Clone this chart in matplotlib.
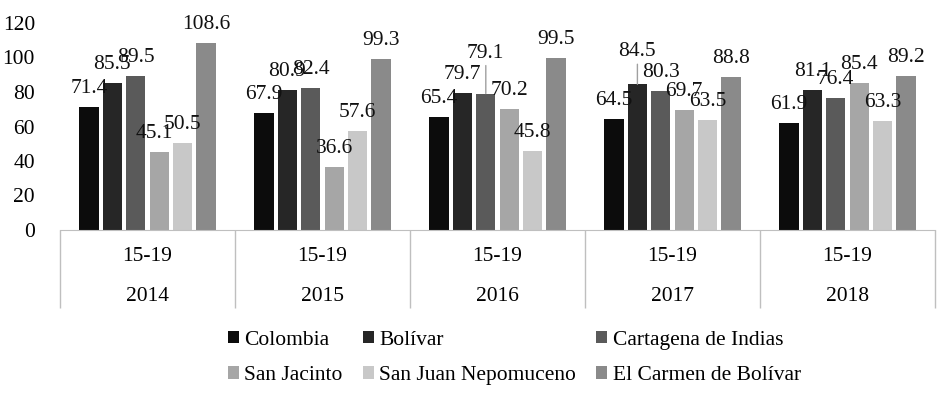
import matplotlib.pyplot as plt
import numpy as np

plt.rcParams['font.family'] = ['Liberation Serif', 'DejaVu Serif']

years = ['2014', '2015', '2016', '2017', '2018']
age_group = '15-19'
series = ['Colombia', 'Bolívar', 'Cartagena de Indias',
          'San Jacinto', 'San Juan Nepomuceno', 'El Carmen de Bolívar']
colombia = [71.4, 67.9, 65.4, 64.5, 61.9]
bolivar = [85.5, 80.9, 79.7, 84.5, 81.1]
cartagena = [89.5, 82.4, 79.1, 80.3, 76.4]
san_jacinto = [45.1, 36.6, 70.2, 69.7, 85.4]
san_juan = [50.5, 57.6, 45.8, 63.5, 63.3]
el_carmen = [108.6, 99.3, 99.5, 88.8, 89.2]
values = [colombia, bolivar, cartagena, san_jacinto, san_juan, el_carmen]
colors = ['#0c0c0c', '#262626', '#5a5a5a', '#a6a6a6', '#c8c8c8', '#8a8a8a']

# labels Excel moved: (series, year) -> (dx px, extra lift px, leader line)
moved = {(2, 2): (0, 22, True), (1, 3): (0, 14, True), (3, 0): (-5, 0, False)}

fs = 15.5
fig = plt.figure(figsize=(9.5, 3.93), dpi=100)
ax = fig.add_axes([60 / 950, 1 - 230 / 393, 875 / 950, 207 / 393])

x = np.arange(len(years))
slot = 0.1337
width = 0.109
pt = 0.72  # px -> points
for i, (name, vals, c) in enumerate(zip(series, values, colors)):
    pos = x + (i - 2.5) * slot
    ax.bar(pos, vals, width, color=c, label=name)
    for j, (p, v) in enumerate(zip(pos, vals)):
        dx, lift, leader = moved.get((i, j), (0, 0, False))
        off = 14 + lift
        ax.annotate(f'{v:.1f}', (p, v), xytext=(dx * pt, off * pt),
                    textcoords='offset points', ha='center', va='baseline',
                    fontsize=fs, color='#111111')
        if leader:
            ax.annotate('', (p, v), xytext=(0, (off - 8) * pt),
                        textcoords='offset points',
                        arrowprops=dict(arrowstyle='-', color='#a0a0a0',
                                        lw=1, shrinkA=0, shrinkB=0))

ax.set_xlim(-0.5, len(years) - 0.5)
ax.set_ylim(0, 120)
ax.set_yticks(range(0, 121, 20))
ax.tick_params(axis='y', length=0, pad=18, labelsize=fs)
for s in ['top', 'right', 'left']:
    ax.spines[s].set_visible(False)
ax.spines['bottom'].set_color('#bfbfbf')
ax.set_xticks(np.arange(-0.5, len(years), 1.0))
ax.set_xticklabels([])
ax.tick_params(axis='x', length=78 * pt, color='#bfbfbf', width=1)
for xi, yr in zip(x, years):
    ax.text(xi, -0.128, age_group, transform=ax.get_xaxis_transform(),
            ha='center', va='center', fontsize=fs)
    ax.text(xi, -0.322, yr, transform=ax.get_xaxis_transform(),
            ha='center', va='center', fontsize=fs)

h, l = ax.get_legend_handles_labels()
order = [0, 3, 1, 4, 2, 5]
fig.legend([h[k] for k in order], [l[k] for k in order], ncol=3,
           loc='upper left', bbox_to_anchor=(228 / 950, 1 - 331 / 393),
           frameon=False, fontsize=fs, handlelength=0.5, handleheight=0.5,
           handletextpad=0.25, columnspacing=0.95, labelspacing=0.75,
           borderpad=0, borderaxespad=0)

fig.savefig('out.png', dpi=100)
